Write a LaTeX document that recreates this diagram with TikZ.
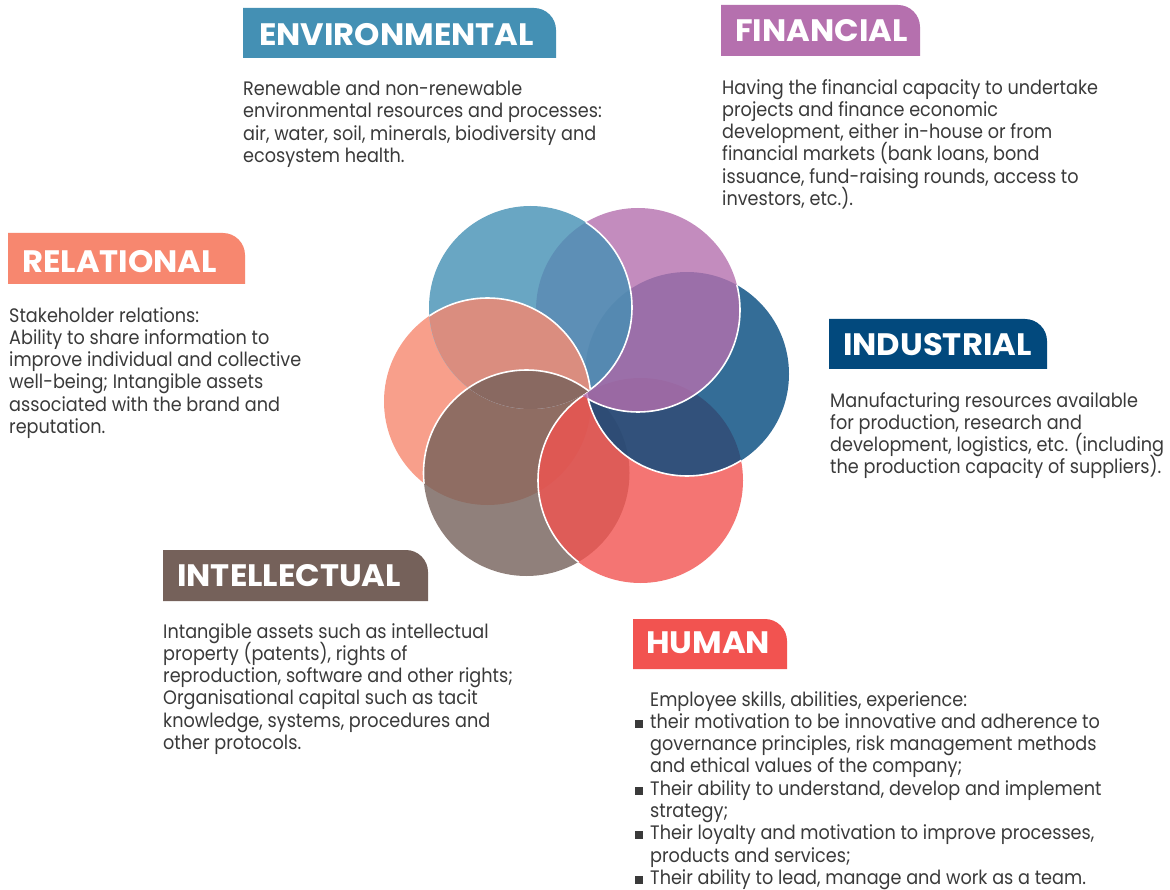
\documentclass[tikz,border=0pt]{standalone}
\usepackage{fontspec}
\setmainfont{Poppins}
\newfontfamily\bodyf{Poppins}[FakeStretch=0.905]
\newfontfamily\titlef{Poppins}[FakeStretch=1.04]
\definecolor{envc}{HTML}{4490B4}
\definecolor{finc}{HTML}{B570AE}
\definecolor{indc}{HTML}{02497D}
\definecolor{humc}{HTML}{F25350}
\definecolor{intc}{HTML}{75615A}
\definecolor{relc}{HTML}{F7876F}
\definecolor{textc}{HTML}{3A3A3A}
\newcommand\hbul{\makebox[0pt][r]{\textcolor{textc}{\rule[0.5pt]{8pt}{8pt}}\hspace{7pt}}}
\newcommand\bodyfont{\bodyf\fontsize{19.5}{22.3}\selectfont\lineskiplimit=-100pt\relax\lineskip=0pt\relax}
\begin{document}
\begin{tikzpicture}[x=1pt,y=-1pt,
  disc/.style={opacity=0.8},
  outl/.style={draw=white,line width=1.6pt},
  titletext/.style={anchor=west,inner sep=0pt,text=white,font=\titlef\bfseries\fontsize{31}{33}\selectfont},
  body/.style={anchor=north west,inner sep=0pt,align=left,text=textc,
    font=\bodyfont,
    execute at begin node={\rule{0pt}{17pt}}}]
\useasboundingbox (0,0) rectangle (1170,890);
\fill[white] (0,0) rectangle (1170,890);

\coordinate (cenv) at (530.5,307.5);
\coordinate (cfin) at (638,310);
\coordinate (cind) at (687,374);
\coordinate (chum) at (640.5,480.5);
\coordinate (cint) at (526.5,473);
\coordinate (crel) at (487.5,401.5);

% circles, bottom to top
\fill[relc,disc] (crel) circle[radius=103.5];
\fill[intc,disc] (cint) circle[radius=103];
\begin{scope}\clip (crel) circle[radius=103.5]; \draw[outl] (cint) circle[radius=103]; \end{scope}
\fill[humc,disc] (chum) circle[radius=102.5];
\begin{scope}\clip (cint) circle[radius=103]; \draw[outl] (chum) circle[radius=102.5]; \end{scope}
\fill[indc,disc] (cind) circle[radius=102];
\begin{scope}\clip (chum) circle[radius=102.5]; \draw[outl] (cind) circle[radius=102]; \end{scope}
\fill[finc,disc] (cfin) circle[radius=102];
\begin{scope}\clip (cind) circle[radius=102]; \draw[outl] (cfin) circle[radius=102]; \end{scope}
\fill[envc,disc] (cenv) circle[radius=101.5];
\begin{scope}\clip (cfin) circle[radius=102]; \draw[outl] (cenv) circle[radius=101.5]; \end{scope}
% relational lies over environmental
\begin{scope}
  \clip (cenv) circle[radius=101.5];
  \clip (crel) circle[radius=103.5];
  \fill[white] (crel) circle[radius=105];
  \fill[envc,disc] (cenv) circle[radius=101.5];
  \fill[relc,disc] (crel) circle[radius=103.5];
  \fill[intc,disc] (cint) circle[radius=103];
  \draw[outl] (cint) circle[radius=103];
\end{scope}
\begin{scope}\clip (cenv) circle[radius=101.5]; \draw[outl] (crel) circle[radius=103.5]; \end{scope}

% title boxes
\fill[envc] (243,58) -- (243,8) -- (534,8) .. controls (546.1,8) and (556,17.9) .. (556,30) -- (556,58) -- cycle;
\fill[finc] (721,56) -- (721,5) -- (898,5) .. controls (910.1,5) and (920,14.9) .. (920,27) -- (920,56) -- cycle;
\fill[relc] (8,284) -- (8,233) -- (223,233) .. controls (235.1,233) and (245,242.9) .. (245,255) -- (245,284) -- cycle;
\fill[indc] (829,369) -- (829,319) -- (1025,319) .. controls (1037.1,319) and (1047,328.9) .. (1047,341) -- (1047,369) -- cycle;
\fill[intc] (163,601) -- (163,550) -- (406,550) .. controls (418.1,550) and (428,559.9) .. (428,572) -- (428,601) -- cycle;
\fill[humc] (633,669) -- (633,619) -- (765,619) .. controls (777.1,619) and (787,628.9) .. (787,641) -- (787,669) -- cycle;

\node[titletext] (tenv) at (259,35) {ENVIRONMENTAL};
\node[titletext] (tfin) at (735,31) {FINANCIAL};
\node[titletext] (trel) at (22,262) {RELATIONAL};
\node[titletext] (tind) at (843,345) {INDUSTRIAL};
\node[titletext] (tint) at (177,576) {INTELLECTUAL};
\node[titletext] (thum) at (646,643) {HUMAN};

\node[body] (denv) at (243,81) {Renewable and non-renewable\\environmental resources and processes:\\air, water, soil, minerals, biodiversity and\\ecosystem health.};
\node[body] (dfin) at (722,79) {Having the financial capacity to undertake\\projects and finance economic\\development, either in-house or from\\financial markets (bank loans, bond\\issuance, fund-raising rounds, access to\\investors, etc.).};
\node[body] (drel) at (9,307) {Stakeholder relations:\\Ability to share information to\\improve individual and collective\\well-being; Intangible assets\\associated with the brand and\\reputation.};
\node[body] (dind) at (830,392) {Manufacturing resources available\\for production, research and\\development, logistics, etc. (including\\the production capacity of suppliers).};
\node[body] (dint) at (163,623) {Intangible assets such as intellectual\\property (patents), rights of\\reproduction, software and other rights;\\Organisational capital such as tacit\\knowledge, systems, procedures and\\other protocols.};
\node[body] (dhum) at (650,691) {Employee skills, abilities, experience:\\\hbul their motivation to be innovative and adherence to\\governance principles, risk management methods\\and ethical values of the company;\\\hbul Their ability to understand, develop and implement\\strategy;\\\hbul Their loyalty and motivation to improve processes,\\products and services;\\\hbul Their ability to lead, manage and work as a team.};
\end{tikzpicture}
\end{document}
